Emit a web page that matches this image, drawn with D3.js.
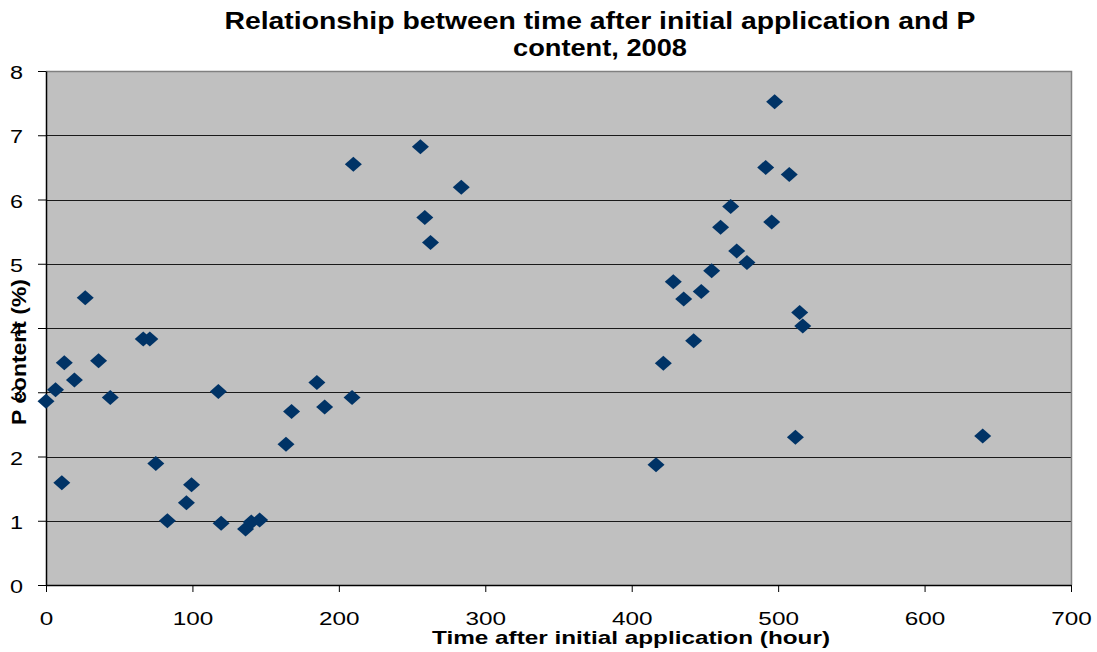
<!DOCTYPE html>
<html>
<head>
<meta charset="utf-8">
<script src="https://cdn.jsdelivr.net/npm/d3@7"></script>
<style>
  html, body { margin: 0; padding: 0; background: #ffffff; }
  svg { display: block; font-family: "Liberation Sans", Arial, sans-serif; }
</style>
</head>
<body>
<svg id="chart" width="1097" height="652"></svg>
<script>
// ---- data ----
const timeHours = [
  0, 6.5, 10.8, 12.5, 19.4, 26.8, 35.9, 43.9, 66.4, 70.9,
  75.0, 82.9, 95.9, 99.4, 117.7, 119.6, 136.3, 140.2, 145.9, 163.9,
  167.7, 185.0, 190.3, 209.0, 209.9, 255.7, 258.7, 262.6, 283.6, 416.6,
  421.6, 428.4, 435.5, 442.3, 447.5, 454.6, 460.7, 467.6, 471.7, 478.7,
  491.5, 495.6, 497.6, 507.6, 511.8, 514.7, 516.8, 639.7
];
const pContent = [
  2.86, 3.04, 1.59, 3.46, 3.19, 4.47, 3.49, 2.92, 3.83, 3.83,
  1.89, 1.00, 1.28, 1.56, 3.01, 0.96, 0.87, 0.98, 1.01, 2.19,
  2.70, 3.15, 2.77, 2.92, 6.55, 6.82, 5.72, 5.33, 6.19, 1.87,
  3.45, 4.72, 4.45, 3.80, 4.57, 4.89, 5.57, 5.89, 5.20, 5.02,
  6.50, 5.65, 7.52, 6.39, 2.30, 4.24, 4.03, 2.32
];
const xTickValues = [0, 100, 200, 300, 400, 500, 600, 700];
const yTickValues = [0, 1, 2, 3, 4, 5, 6, 7, 8];
const titleLines = ["Relationship between time after initial application and P", "content, 2008"];
const xTitle = "Time after initial application (hour)";
const yTitle = "P content (%)";

// ---- layout ----
const svg = d3.select("#chart");
const plotLeft = 46, plotRight = 1071, plotTop = 71, plotBottom = 585;

const x = d3.scaleLinear().domain([0, 700]).range([plotLeft, plotRight]);
const y = d3.scaleLinear().domain([0, 8]).range([plotBottom, plotTop]);

function stretchTo(sel, w) {
  sel.attr("textLength", w).attr("lengthAdjust", "spacingAndGlyphs");
}
function stretchBy(sel, f) {
  sel.each(function () {
    const w = this.getComputedTextLength();
    d3.select(this).attr("textLength", w * f).attr("lengthAdjust", "spacingAndGlyphs");
  });
}

// plot background
svg.append("rect")
  .attr("x", plotLeft).attr("y", plotTop)
  .attr("width", plotRight - plotLeft).attr("height", plotBottom - plotTop)
  .attr("fill", "#c0c0c0");

// gridlines
svg.append("g").selectAll("line")
  .data(yTickValues.filter(d => d > 0 && d < 8))
  .join("line")
  .attr("x1", plotLeft).attr("x2", plotRight)
  .attr("y1", d => Math.round(y(d)) + 0.5).attr("y2", d => Math.round(y(d)) + 0.5)
  .attr("stroke", "#1a1a1a").attr("stroke-width", 1.2);

// top & right border
svg.append("path")
  .attr("d", `M${plotLeft},${plotTop + 0.5}H${plotRight + 0.5}V${plotBottom}`)
  .attr("fill", "none").attr("stroke", "#808080").attr("stroke-width", 1.5);

// x axis
const gx = svg.append("g")
  .attr("transform", `translate(0,${plotBottom})`)
  .call(d3.axisBottom(x).tickValues(xTickValues).tickSize(7).tickSizeOuter(0).tickPadding(0));
gx.select(".domain").attr("stroke", "#000").attr("stroke-width", 1.5);
gx.selectAll(".tick line").attr("stroke", "#000");
gx.selectAll(".tick text")
  .attr("y", 40).attr("dy", null)
  .attr("font-size", 18).attr("fill", "#000")
  .attr("font-family", '"Liberation Sans", Arial, sans-serif')
  .call(stretchBy, 1.35);

// y axis
const gy = svg.append("g")
  .attr("transform", `translate(${plotLeft},0)`)
  .call(d3.axisLeft(y).tickValues(yTickValues).tickSize(8).tickSizeOuter(0).tickPadding(0));
gy.select(".domain").attr("stroke", "#000").attr("stroke-width", 1.5);
gy.selectAll(".tick line").attr("stroke", "#000");
gy.selectAll(".tick text")
  .attr("x", -23).attr("dy", "0.42em")
  .attr("font-size", 18).attr("fill", "#000")
  .attr("font-family", '"Liberation Sans", Arial, sans-serif')
  .call(stretchBy, 1.3);

// markers (diamonds)
const diamond = {
  draw(ctx, size) {
    const hw = 8.5, hh = 7.5;
    ctx.moveTo(0, -hh); ctx.lineTo(hw, 0); ctx.lineTo(0, hh); ctx.lineTo(-hw, 0); ctx.closePath();
  }
};
const points = timeHours.map((t, i) => ({ t, p: pContent[i] }));
svg.append("g").selectAll("path")
  .data(points)
  .join("path")
  .attr("transform", d => `translate(${x(d.t)},${y(d.p)})`)
  .attr("d", d3.symbol().type(diamond).size(1))
  .attr("fill", "#003366");

// chart title
const tt = svg.append("g").attr("font-weight", "bold").attr("font-size", 23).attr("fill", "#000")
  .attr("text-anchor", "middle");
tt.append("text").attr("x", 600).attr("y", 29).text(titleLines[0]).call(stretchTo, 751);
tt.append("text").attr("x", 600).attr("y", 56).text(titleLines[1]).call(stretchTo, 174);

// axis titles
svg.append("text")
  .attr("x", 631).attr("y", 644)
  .attr("text-anchor", "middle").attr("font-weight", "bold").attr("font-size", 19).attr("fill", "#000")
  .text(xTitle).call(stretchTo, 398);

svg.append("text")
  .attr("transform", `translate(26,352) rotate(-90)`)
  .attr("text-anchor", "middle").attr("font-weight", "bold").attr("font-size", 21).attr("fill", "#000")
  .text(yTitle).call(stretchTo, 146);
</script>
</body>
</html>
